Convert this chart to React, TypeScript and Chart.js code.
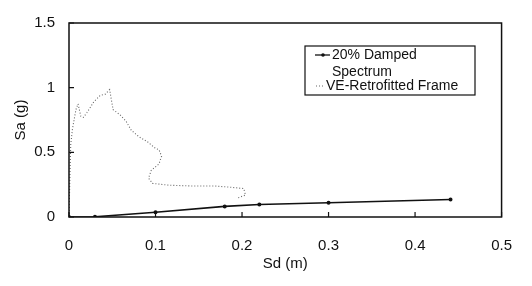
import React, { useEffect, useRef } from "react";
import { Chart, registerables } from "chart.js";

Chart.register(...registerables);

// Series 1: 20% Damped Spectrum
const spectrumSd = [0, 0.03, 0.1, 0.18, 0.22, 0.3, 0.441];
const spectrumSa = [0, 0.002, 0.037, 0.082, 0.097, 0.11, 0.135];

// Series 2: VE-Retrofitted Frame
const frameSd = [0, 0.001, 0.002, 0.004, 0.008, 0.0105, 0.0136, 0.0166, 0.021, 0.0286, 0.036, 0.042, 0.047, 0.049, 0.051, 0.059, 0.066, 0.072, 0.081, 0.091, 0.1, 0.104, 0.107, 0.104, 0.095, 0.092, 0.0965, 0.115, 0.141, 0.168, 0.187, 0.202, 0.204, 0.195];
const frameSa = [0, 0.3, 0.56, 0.68, 0.83, 0.875, 0.78, 0.77, 0.81, 0.89, 0.94, 0.95, 0.985, 0.905, 0.83, 0.79, 0.74, 0.67, 0.62, 0.58, 0.53, 0.52, 0.47, 0.41, 0.36, 0.3, 0.26, 0.246, 0.24, 0.24, 0.23, 0.22, 0.17, 0.147];

const xTicks = [0, 0.1, 0.2, 0.3, 0.4, 0.5];
const yTicks = [0, 0.5, 1, 1.5];

const legendLabels = [["20% Damped", "Spectrum"], ["VE-Retrofitted Frame"]];
const xTitle = "Sd (m)";
const yTitle = "Sa (g)";

const FONT = "'Liberation Sans', Arial, sans-serif";
const INK = "#111";

const framePlugin = {
  id: "frameAndTicks",
  afterDraw(chart: any) {
    const { ctx, chartArea: a, scales } = chart;
    ctx.save();
    ctx.strokeStyle = INK;
    ctx.lineWidth = 1.5;
    ctx.strokeRect(a.left, a.top, a.right - a.left, a.bottom - a.top);
    ctx.lineWidth = 1.2;
    ctx.beginPath();
    xTicks.forEach((v) => {
      const px = scales.x.getPixelForValue(v);
      ctx.moveTo(px, a.bottom);
      ctx.lineTo(px, a.bottom - 5);
    });
    yTicks.forEach((v) => {
      const py = scales.y.getPixelForValue(v);
      ctx.moveTo(a.left, py);
      ctx.lineTo(a.left + 5, py);
    });
    ctx.stroke();

    // legend box
    const bx = a.left + 236;
    const by = a.top + 23;
    const bw = 170;
    const bh = 49;
    ctx.fillStyle = "#fff";
    ctx.fillRect(bx, by, bw, bh);
    ctx.lineWidth = 1.2;
    ctx.strokeRect(bx, by, bw, bh);
    ctx.font = `14px ${FONT}`;
    ctx.fillStyle = INK;
    ctx.textBaseline = "middle";
    ctx.textAlign = "left";
    // series 1 sample
    ctx.beginPath();
    ctx.lineWidth = 1.3;
    ctx.moveTo(bx + 10, by + 9);
    ctx.lineTo(bx + 25, by + 9);
    ctx.stroke();
    ctx.beginPath();
    ctx.arc(bx + 18, by + 9, 1.8, 0, Math.PI * 2);
    ctx.fill();
    ctx.fillText(legendLabels[0][0], bx + 27, by + 9);
    ctx.fillText(legendLabels[0][1], bx + 27, by + 26);
    // series 2 sample
    ctx.beginPath();
    ctx.strokeStyle = "#666";
    ctx.setLineDash([1, 2]);
    ctx.lineWidth = 1;
    ctx.moveTo(bx + 11, by + 40);
    ctx.lineTo(bx + 19, by + 40);
    ctx.stroke();
    ctx.setLineDash([]);
    ctx.fillText(legendLabels[1][0], bx + 21, by + 40);
    ctx.restore();
  },
};

export default function App() {
  const ref = useRef<HTMLCanvasElement>(null);
  useEffect(() => {
    document.body.style.margin = "0";
    const chart = new Chart(ref.current!, {
      type: "scatter",
      data: {
        datasets: [
          {
            label: legendLabels[0].join(" "),
            data: spectrumSd.map((x, i) => ({ x, y: spectrumSa[i] })),
            showLine: true,
            borderColor: INK,
            backgroundColor: INK,
            borderWidth: 1.6,
            pointRadius: 1.2,
          },
          {
            label: legendLabels[1][0],
            data: frameSd.map((x, i) => ({ x, y: frameSa[i] })),
            showLine: true,
            borderColor: "#666",
            borderWidth: 1.1,
            borderDash: [1, 2],
            pointRadius: 0,
          },
        ],
      },
      options: {
        animation: false,
        responsive: false,
        layout: { padding: { left: 0, top: 16, right: 24, bottom: 0 } },
        plugins: { legend: { display: false }, tooltip: { enabled: false } },
        scales: {
          x: {
            type: "linear",
            min: 0,
            max: 0.5,
            afterBuildTicks: (s: any) => {
              s.ticks = xTicks.map((v) => ({ value: v }));
            },
            afterFit: (s: any) => {
              s.height = 69;
            },
            ticks: {
              font: { family: FONT, size: 15 },
              color: INK,
              padding: 20,
              callback: (v: any) => String(Number(v)),
            },
            grid: { display: false, drawTicks: false },
            border: { display: false },
            title: {
              display: true,
              text: xTitle,
              font: { family: FONT, size: 15 },
              color: INK,
              padding: { bottom: 13, top: 0 },
            },
          },
          y: {
            type: "linear",
            min: 0,
            max: 1.5,
            afterBuildTicks: (s: any) => {
              s.ticks = yTicks.map((v) => ({ value: v }));
            },
            afterFit: (s: any) => {
              s.width = 69;
            },
            ticks: {
              font: { family: FONT, size: 15 },
              color: INK,
              padding: 14,
              callback: (v: any) => String(Number(v)),
            },
            grid: { display: false, drawTicks: false },
            border: { display: false },
            title: {
              display: true,
              text: yTitle,
              font: { family: FONT, size: 15 },
              color: INK,
              padding: { top: 12, bottom: 0 },
            },
          },
        },
      },
      plugins: [framePlugin],
    });
    return () => chart.destroy();
  }, []);
  return (
    <div style={{ width: 532, height: 286 }}>
      <canvas ref={ref} width={532} height={286} />
    </div>
  );
}
